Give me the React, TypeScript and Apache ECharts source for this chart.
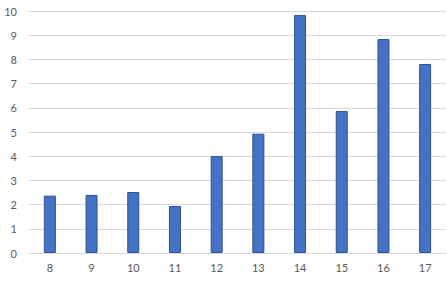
import React, { useEffect, useRef } from "react";
import * as echarts from "echarts";

const categories = ["8", "9", "10", "11", "12", "13", "14", "15", "16", "17"];
const values = [2.37, 2.4, 2.52, 1.94, 4.01, 4.93, 9.83, 5.87, 8.84, 7.81];

export default function App() {
  const ref = useRef<HTMLDivElement>(null);
  useEffect(() => {
    if (!ref.current) return;
    const chart = echarts.init(ref.current, null, { renderer: "svg" });
    chart.setOption({
      animation: false,
      backgroundColor: "#ffffff",
      grid: { left: 29, right: 1, top: 11, bottom: 28 },
      xAxis: {
        type: "category",
        data: categories,
        axisLine: { show: true, lineStyle: { color: "#d9d9d9", width: 1 } },
        axisTick: { show: false },
        axisLabel: { color: "#595959", fontFamily: "Lato", fontSize: 11, margin: 9 },
      },
      yAxis: {
        type: "value",
        min: 0,
        max: 10,
        interval: 1,
        axisLine: { show: false },
        axisTick: { show: false },
        splitLine: { lineStyle: { color: "#d9d9d9", width: 1 } },
        axisLabel: { color: "#595959", fontFamily: "Lato", fontSize: 11, margin: 12 },
      },
      series: [
        {
          type: "bar",
          data: values,
          barWidth: 12,
          itemStyle: { color: "#4472C4", borderColor: "#2F528F", borderWidth: 1 },
        },
      ],
    });
    return () => chart.dispose();
  }, []);
  return (
    <div style={{ position: "absolute", left: 0, top: 0, width: 447, height: 281, background: "#fff" }}>
      <div ref={ref} style={{ width: 447, height: 281 }} />
    </div>
  );
}
